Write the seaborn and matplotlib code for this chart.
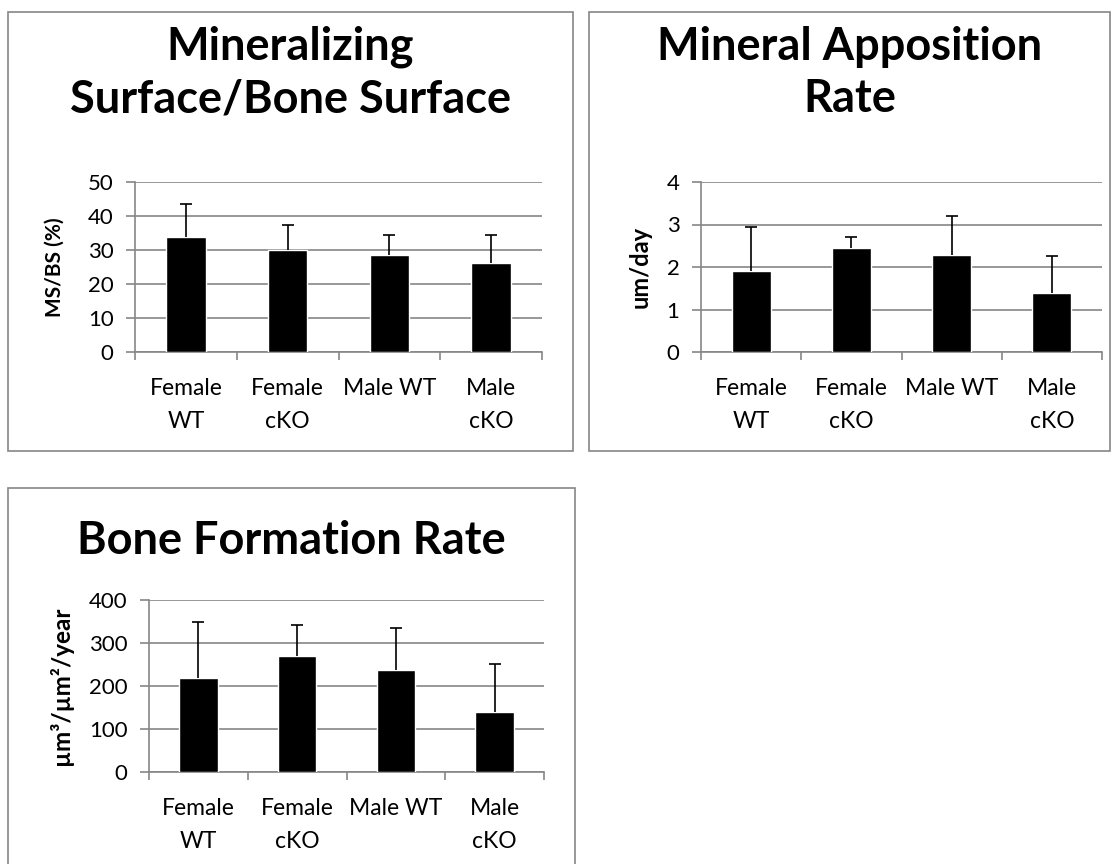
import matplotlib
matplotlib.use("Agg")
import matplotlib.pyplot as plt
from matplotlib.patches import Rectangle
from matplotlib.ticker import FixedLocator
import seaborn as sns
import pandas as pd

# Group labels shared by all three charts
groups = ["Female\nWT", "Female\ncKO", "Male WT", "Male\ncKO"]

# Mineralizing surface / bone surface (%)
msbs_mean = [33.7, 30.1, 28.4, 26.2]
msbs_err = [9.7, 7.2, 5.9, 8.1]

# Mineral apposition rate (um/day)
mar_mean = [1.90, 2.45, 2.28, 1.39]
mar_err = [1.04, 0.25, 0.93, 0.88]

# Bone formation rate (um3/um2/year)
bfr_mean = [219, 269, 237, 140]
bfr_err = [129, 73, 99, 111]

W, H = 1117, 864
GRAY = "#868686"

sns.set_theme(style="white")
plt.rcParams["font.family"] = ["Lato", "DejaVu Sans"]
plt.rcParams["text.color"] = "black"
plt.rcParams["xtick.labelcolor"] = "black"
plt.rcParams["ytick.labelcolor"] = "black"

fig = plt.figure(figsize=(W / 100, H / 100), dpi=100)


def fx(x):
    return x / W


def fy(y):
    return 1 - y / H


panels = [
    dict(title="Mineralizing\nSurface/Bone Surface", title_y=73,
         ylabel="MS/BS (%)", ylabel_x=55, ylabel_size=15,
         mean=msbs_mean, err=msbs_err, yticks=[0, 10, 20, 30, 40, 50],
         axes=(135, 182, 542, 352), box=(8, 12, 573, 451)),
    dict(title="Mineral Apposition\nRate", title_y=73,
         ylabel="um/day", ylabel_x=640, ylabel_size=17,
         mean=mar_mean, err=mar_err, yticks=[0, 1, 2, 3, 4],
         axes=(701, 182, 1102, 352), box=(589, 12, 1110, 451)),
    dict(title="Bone Formation Rate", title_y=541,
         ylabel="µm³/µm²/year", ylabel_x=61, ylabel_size=17.5,
         mean=bfr_mean, err=bfr_err, yticks=[0, 100, 200, 300, 400],
         axes=(149, 600, 544, 772), box=(8, 488, 575, 880)),
]

for p in panels:
    # chart-area frame
    bx0, by0, bx1, by1 = p["box"]
    fig.patches.append(Rectangle((fx(bx0), fy(by1)), fx(bx1 - bx0), (by1 - by0) / H,
                                 transform=fig.transFigure, fill=False,
                                 edgecolor=GRAY, linewidth=1.2, zorder=0))

    x0, y0, x1, y1 = p["axes"]
    ax = fig.add_axes([fx(x0), fy(y1), fx(x1 - x0), (y1 - y0) / H])

    df = pd.DataFrame({"group": groups, "value": p["mean"]})
    sns.barplot(data=df, x="group", y="value", color="black", saturation=1,
                width=0.39, errorbar=None, ax=ax, zorder=3)

    # upper-only error bars
    _, caps, _ = ax.errorbar(range(len(groups)), p["mean"],
                             yerr=[[0] * len(groups), p["err"]], fmt="none",
                             ecolor="black", elinewidth=1.2, capsize=4,
                             capthick=1.2, zorder=4)
    caps[0].set_visible(False)

    ax.set_xlim(-0.5, len(groups) - 0.5)
    ax.set_ylim(p["yticks"][0], p["yticks"][-1])
    ax.set_yticks(p["yticks"])
    ax.set_xlabel("")
    ax.set_ylabel("")

    ax.yaxis.grid(True, color=GRAY, linewidth=1.2)
    ax.xaxis.grid(False)
    ax.set_axisbelow(True)

    for side in ("top", "right"):
        ax.spines[side].set_visible(False)
    for side in ("left", "bottom"):
        ax.spines[side].set_color(GRAY)
        ax.spines[side].set_linewidth(1.2)

    ax.xaxis.set_minor_locator(FixedLocator([i - 0.5 for i in range(len(groups) + 1)]))
    ax.tick_params(axis="x", which="major", length=0, pad=19, labelsize=16.5,
                   labelcolor="black")
    ax.tick_params(axis="x", which="minor", length=6, width=1.2, color=GRAY,
                   direction="out", bottom=True)
    ax.tick_params(axis="y", which="major", length=6.5, width=1.2, color=GRAY,
                   direction="out", left=True, pad=9, labelsize=16,
                   labelcolor="black")
    for lbl in ax.get_xticklabels():
        lbl.set_linespacing(1.7)

    cx = (bx0 + bx1) / 2
    fig.text(fx(cx), fy(p["title_y"]), p["title"], ha="center", va="center",
             fontsize=32.5, fontweight="bold", linespacing=1.32, color="black")
    fig.text(fx(p["ylabel_x"]), fy((y0 + y1) / 2), p["ylabel"], rotation=90,
             ha="center", va="center", fontsize=p["ylabel_size"],
             fontweight="bold", color="black")

fig.savefig("out.png", dpi=100, facecolor="white")
